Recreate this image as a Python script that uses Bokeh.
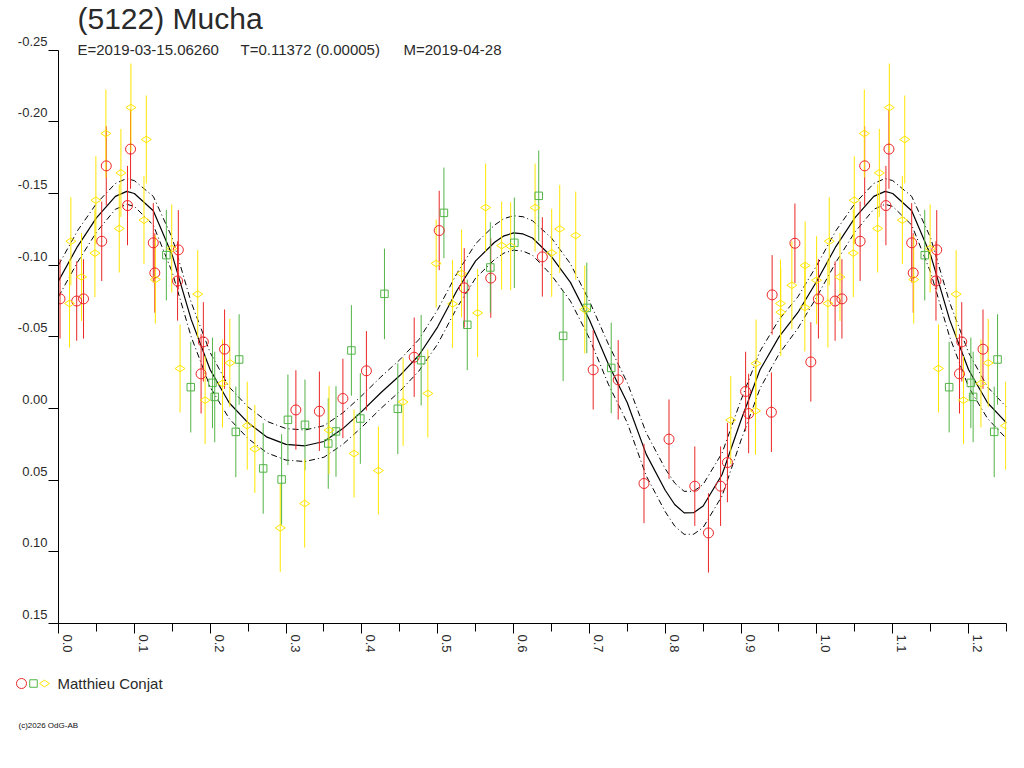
import math
from bokeh.plotting import figure
from bokeh.layouts import column, row
from bokeh.models import Range1d, FixedTicker, NumeralTickFormatter, Label
from bokeh.embed import file_html
from bokeh.resources import INLINE

# ---------------- data (phase, magnitude) ----------------
red_phase = [0.002, 0.024, 0.033, 0.057, 0.063, 0.091, 0.095, 0.125, 0.127, 0.158,
             0.157, 0.191, 0.188, 0.219, 0.313, 0.344, 0.375, 0.406, 0.469, 0.502,
             0.535, 0.570, 0.638, 0.705, 0.738, 0.772, 0.805, 0.839, 0.857, 0.873,
             0.882, 0.906, 0.910, 0.940, 0.941, 0.971, 0.992]
red_mag = [-0.0765, -0.075, -0.0765, -0.1167, -0.1693, -0.1416, -0.181, -0.1156, -0.0946, -0.1107,
           -0.089, -0.0465, -0.0242, -0.0414, 0.001, 0.0019, -0.007, -0.0263, -0.0358, -0.1242,
           -0.0842, -0.091, -0.1058, -0.027, -0.020, 0.0523, 0.0214, 0.0542, 0.0868, 0.0542,
           0.0377, -0.0119, 0.0035, 0.0026, -0.0793, -0.1153, -0.0325]
red_err = 0.0277

green_phase = [0.1422, 0.1744, 0.203, 0.206, 0.2382, 0.2338, 0.2699, 0.2942, 0.3025, 0.325,
               0.3557, 0.3659, 0.3862, 0.398, 0.4298, 0.4474, 0.4782, 0.5082, 0.539, 0.5694,
               0.6011, 0.6332, 0.6654, 0.6966, 0.7288]
green_mag = [-0.107, -0.0149, -0.0179, -0.0081, -0.0342, 0.0163, 0.0418, 0.0495, 0.0079, 0.0114,
             0.0244, 0.016, -0.0405, 0.007, -0.080, 0.0002, -0.0337, -0.1365, -0.0584, -0.0984,
             -0.1156, -0.1484, -0.0507, -0.0702, -0.0283]
green_err = 0.0316

yellow_phase = [0.0145, 0.0163, 0.0304, 0.048, 0.0493, 0.0625, 0.0801, 0.0823, 0.0955, 0.1127,
                0.1158, 0.1277, 0.1493, 0.1603, 0.1836, 0.1933, 0.2163, 0.2259, 0.2489, 0.2589,
                0.2924, 0.3246, 0.3567, 0.3897, 0.4218, 0.4544, 0.487, 0.498, 0.5196, 0.5315,
                0.5526, 0.5632, 0.5843, 0.5962, 0.6284, 0.6503, 0.6609, 0.682, 0.6939, 0.8864,
                0.9198, 0.919, 0.952, 0.9524, 0.967, 0.9845, 0.9841, 0.9996]
yellow_mag = [-0.0733, -0.1167, -0.0918, -0.1084, -0.1453, -0.1919, -0.1256, -0.1644, -0.210, -0.1314,
              -0.1877, -0.090, -0.1116, -0.0279, -0.0798, -0.0058, -0.0175, -0.0318, 0.012, 0.0282,
              0.0833, 0.0663, 0.0151, 0.0314, 0.0433, -0.0046, -0.0105, -0.1012, -0.073, -0.0942,
              -0.0667, -0.1402, -0.1137, -0.1132, -0.1402, -0.1086, -0.1253, -0.1207, -0.0691, 0.0081,
              -0.0314, 0.0016, -0.0733, -0.0672, -0.086, -0.0998, -0.0705, -0.0895]
yellow_err = 0.0307

# fitted light curve and its uncertainty band
fit_phase = [0.0, 0.025, 0.05, 0.075, 0.09, 0.1, 0.125, 0.15, 0.175, 0.2, 0.225, 0.25, 0.275, 0.3,
             0.325, 0.35, 0.375, 0.4, 0.425, 0.45, 0.475, 0.5, 0.525, 0.55, 0.575, 0.5875, 0.6,
             0.6125, 0.625, 0.65, 0.675, 0.7, 0.725, 0.75, 0.775, 0.8, 0.8125, 0.825, 0.8375,
             0.85, 0.875, 0.9, 0.925, 0.95, 0.975, 1.0]
fit_mag = [-0.089, -0.113, -0.133, -0.148, -0.1515, -0.150, -0.138, -0.107, -0.062, -0.027, -0.004,
           0.010, 0.020, 0.025, 0.026, 0.023, 0.014, 0.002, -0.011, -0.023, -0.037, -0.057, -0.082,
           -0.103, -0.116, -0.1205, -0.1225, -0.1218, -0.119, -0.106, -0.088, -0.062, -0.031,
           -0.004, 0.032, 0.057, 0.067, 0.0728, 0.0727, 0.068, 0.046, 0.008, -0.027, -0.050,
           -0.067, -0.089]
fit_err = [0.011, 0.011, 0.010, 0.009, 0.009, 0.009, 0.010, 0.012, 0.012, 0.012, 0.011, 0.011,
           0.011, 0.011, 0.011, 0.011, 0.011, 0.011, 0.011, 0.011, 0.011, 0.012, 0.012, 0.012,
           0.012, 0.012, 0.012, 0.012, 0.012, 0.013, 0.013, 0.013, 0.014, 0.014, 0.015, 0.015,
           0.015, 0.015, 0.015, 0.015, 0.015, 0.014, 0.013, 0.012, 0.011, 0.011]

x_ticks = [0.0, 0.1, 0.2, 0.3, 0.4, 0.5, 0.6, 0.7, 0.8, 0.9, 1.0, 1.1, 1.2]
x_tick_labels = ["0.0", "0.1", "0.2", "0.3", "0.4", "0.5", "0.6", "0.7", "0.8", "0.9",
                 "1.0", "1.1", "1.2"]
x_minor_ticks = [0.05, 0.15, 0.25, 0.35, 0.45, 0.55, 0.65, 0.75, 0.85, 0.95, 1.05, 1.15, 1.25]
y_ticks = [-0.25, -0.20, -0.15, -0.10, -0.05, 0.0, 0.05, 0.10, 0.15]
y_tick_labels = ["-0.25", "-0.20", "-0.15", "-0.10", "-0.05", "0.00", "0.05", "0.10", "0.15"]

title_text = "(5122) Mucha"
sub_e = "E=2019-03-15.06260"
sub_t = "T=0.11372 (0.00005)"
sub_m = "M=2019-04-28"
observer = "Matthieu Conjat"
footer = "(c)2026 OdG-AB"

PHASE_MAX = 1.25
Y_MIN, Y_MAX = -0.25, 0.15          # extent of the magnitude axis
FRAME_H = 623                       # frame reaches the top of the canvas (title lives inside it)
AXIS_H = 573.3                      # pixel height of the drawn magnitude axis
Y_TOP = Y_MAX - (Y_MAX - Y_MIN) * FRAME_H / AXIS_H

RED, GREEN, YELLOW = "#EC2525", "#52B447", "#FFE600"
FONT = "Liberation Sans"
TXT = "#2a2a2a"
W = 1016


def extend(ph, *cols):
    """repeat the phased points beyond 1.0 up to PHASE_MAX"""
    out_p = list(ph)
    outs = [list(c) for c in cols]
    for i, x in enumerate(ph):
        if x + 1.0 <= PHASE_MAX + 1e-9:
            out_p.append(x + 1.0)
            for o, c in zip(outs, cols):
                o.append(c[i])
    return [out_p] + outs


# ---------------- main plot ----------------
p = figure(frame_width=948, frame_height=FRAME_H,
           x_range=Range1d(0.0, PHASE_MAX), y_range=Range1d(Y_MAX, Y_TOP),
           output_backend="svg", toolbar_location=None,
           min_border_left=58, min_border_right=10, min_border_top=0, min_border_bottom=37)
p.grid.visible = False
p.outline_line_color = None
p.background_fill_color = "white"
p.border_fill_color = "white"

for ax in (p.xaxis[0], p.yaxis[0]):
    ax.axis_line_color = "black"
    ax.major_tick_line_color = "black"
    ax.minor_tick_line_color = "black"
    ax.major_tick_in = 0
    ax.major_tick_out = 10
    ax.minor_tick_in = 0
    ax.major_label_text_font = FONT
    ax.major_label_text_font_size = "13px"
    ax.major_label_text_color = TXT

# labels carry an empty second line so that they sit beside the tick, as in the original
p.xaxis.ticker = FixedTicker(ticks=x_ticks, minor_ticks=x_minor_ticks)
p.xaxis.minor_tick_out = 8
p.xaxis.formatter = NumeralTickFormatter(format="0.0")
p.xaxis.major_label_overrides = {tk: lab + "\n " for tk, lab in zip(x_ticks, x_tick_labels)}
p.xaxis.major_label_orientation = -math.pi / 2
p.xaxis.major_label_standoff = 1

p.yaxis.ticker = FixedTicker(ticks=y_ticks)
p.yaxis.bounds = (Y_MIN, Y_MAX)
p.yaxis.minor_tick_out = 0
p.yaxis.formatter = NumeralTickFormatter(format="0.00")
p.yaxis.major_label_overrides = {tk: lab + "\n " for tk, lab in zip(y_ticks, y_tick_labels)}
p.yaxis.major_label_standoff = 1

# fit curve and band
fx, fm, fe = extend(fit_phase, fit_mag, fit_err)
p.line(fx, fm, line_color="black", line_width=1.2)
p.line(fx, [m - e for m, e in zip(fm, fe)], line_color="black", line_width=1, line_dash="6 3 1 3")
p.line(fx, [m + e for m, e in zip(fm, fe)], line_color="black", line_width=1, line_dash="6 3 1 3")

series = [
    (red_phase, red_mag, red_err, RED, "circle", 10, 0.0),
    (green_phase, green_mag, green_err, GREEN, "square", 7.5, 0.0),
    (yellow_phase, yellow_mag, yellow_err, YELLOW, "diamond", 10, math.pi / 2),
]
for ph, mg, er, col, mk, sz, ang in series:
    xs, ms = extend(ph, mg)
    p.segment(xs, [m - er for m in ms], xs, [m + er for m in ms], line_color=col, line_width=1)
for ph, mg, er, col, mk, sz, ang in series:
    xs, ms = extend(ph, mg)
    p.scatter(xs, ms, marker=mk, size=sz, angle=ang, fill_color=None, line_color=col, line_width=1)

# title and subtitle (screen units measured up from the frame bottom)
p.add_layout(Label(x=19, y=FRAME_H - 18, x_units="screen", y_units="screen", text=title_text,
                   text_font=FONT, text_font_size="30px", text_color=TXT,
                   text_baseline="middle", text_align="left"))
for sx, txt in ((19, sub_e), (182, sub_t), (345, sub_m)):
    p.add_layout(Label(x=sx, y=FRAME_H - 49, x_units="screen", y_units="screen", text=txt,
                       text_font=FONT, text_font_size="15px", text_color=TXT,
                       text_baseline="middle", text_align="left"))

# ---------------- legend / footer row ----------------
q = figure(width=W, height=92, x_range=Range1d(0, W), y_range=Range1d(92, 0),
           output_backend="svg", toolbar_location=None, min_border=0,
           x_axis_location=None, y_axis_location=None)
q.grid.visible = False
q.outline_line_color = None
key_x = [21, 33, 44]
key_y = [23, 23, 23]
for (ph, mg, er, col, mk, sz, ang), kx, ky in zip(series, key_x, key_y):
    q.scatter([kx], [ky], marker=mk, size=sz, angle=ang, fill_color=None, line_color=col, line_width=1)
q.add_layout(Label(x=57, y=23, text=observer, text_font=FONT, text_font_size="15px",
                   text_color=TXT, text_baseline="middle", text_align="left"))
q.add_layout(Label(x=18, y=65, text=footer, text_font=FONT, text_font_size="8px",
                   text_color="#111111", text_baseline="middle", text_align="left"))

layout = column(p, row(q), spacing=0)
open("out.html", "w").write(file_html(layout, INLINE))
